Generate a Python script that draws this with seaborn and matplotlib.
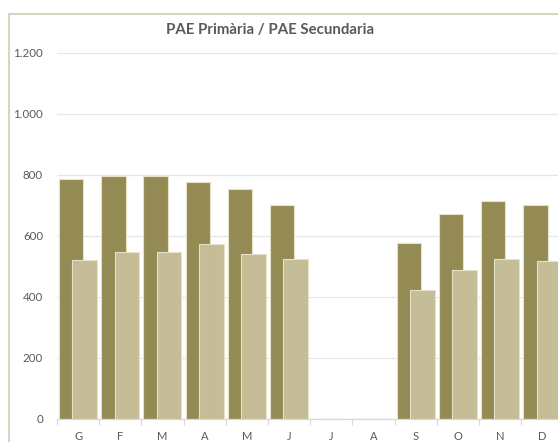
import matplotlib
matplotlib.use("Agg")
import matplotlib.pyplot as plt
import seaborn as sns
import pandas as pd
import numpy as np
from matplotlib.patches import Rectangle

months = ["G", "F", "M", "A", "M", "J", "J", "A", "S", "O", "N", "D"]
primaria = [786, 794, 795, 776, 751, 699, 0, 0, 577, 671, 713, 699]
secundaria = [521, 546, 546, 573, 540, 523, 0, 0, 421, 486, 524, 516]
yticks = [0, 200, 400, 600, 800, 1000, 1200]
title = "PAE Primària / PAE Secundaria"

dark = "#948A54"
light = "#C4BD97"
edge = "#E6E1C8"
txt = "#595959"

sns.set_theme(style="white")
plt.rcParams["font.family"] = ["Lato", "DejaVu Sans"]

fig = plt.figure(figsize=(5.58, 4.42), dpi=100)
W, H = 558, 442
ax = fig.add_axes([57 / W, (H - 418.5) / H, (563.5 - 57) / W, (418.5 - 52.5) / H])

pos = list(range(len(months)))
df1 = pd.DataFrame({"pos": pos, "v": primaria})
df2 = pd.DataFrame({"pos": pos, "v": secundaria})

bw = 0.58
sns.barplot(data=df1, x="pos", y="v", ax=ax, color=dark, width=bw,
            saturation=1, edgecolor=edge, linewidth=0.8, zorder=2)
n1 = len(ax.patches)
sns.barplot(data=df2, x="pos", y="v", ax=ax, color=light, width=bw,
            saturation=1, edgecolor=edge, linewidth=0.8, zorder=3)
for i, p in enumerate(ax.patches):
    shift = -0.165 if i < n1 else 0.155
    p.set_x(p.get_x() + shift)

ax.set_xlim(-0.5, len(months) - 0.5)
ax.set_ylim(0, 1200)
ax.set_yticks(yticks)
ax.set_yticklabels([f"{v:,}".replace(",", ".") for v in yticks])
ax.set_xticks(pos)
ax.set_xticklabels(months)
ax.set_xticks(np.arange(-0.5, len(months), 1), minor=True)
ax.tick_params(axis="x", which="major", length=0, pad=9, labelsize=8, labelcolor=txt)
ax.tick_params(axis="x", which="minor", length=4, width=0.8, color="#D9D9D9", bottom=True)
ax.tick_params(axis="y", length=0, pad=10, labelsize=8.3, labelcolor=txt)
ax.set_xlabel("")
ax.set_ylabel("")
ax.grid(axis="y", color="#E6E6E6", linewidth=0.9, zorder=0)
ax.set_axisbelow(True)
for s in ["top", "right", "left"]:
    ax.spines[s].set_visible(False)
ax.spines["bottom"].set_color("#D9D9D9")
ax.spines["bottom"].set_linewidth(0.9)

fig.text(270 / W, 1 - 30 / H, title, ha="center", va="center",
         fontsize=10.8, fontweight="bold", color=txt)

fig.patches.append(Rectangle((8.5 / W, -0.05), 1.2, 1 - 13.5 / H + 0.05,
                             transform=fig.transFigure, fill=False,
                             edgecolor="#D9D4BF", linewidth=1.5, zorder=0))

fig.savefig("out.png", dpi=100)
